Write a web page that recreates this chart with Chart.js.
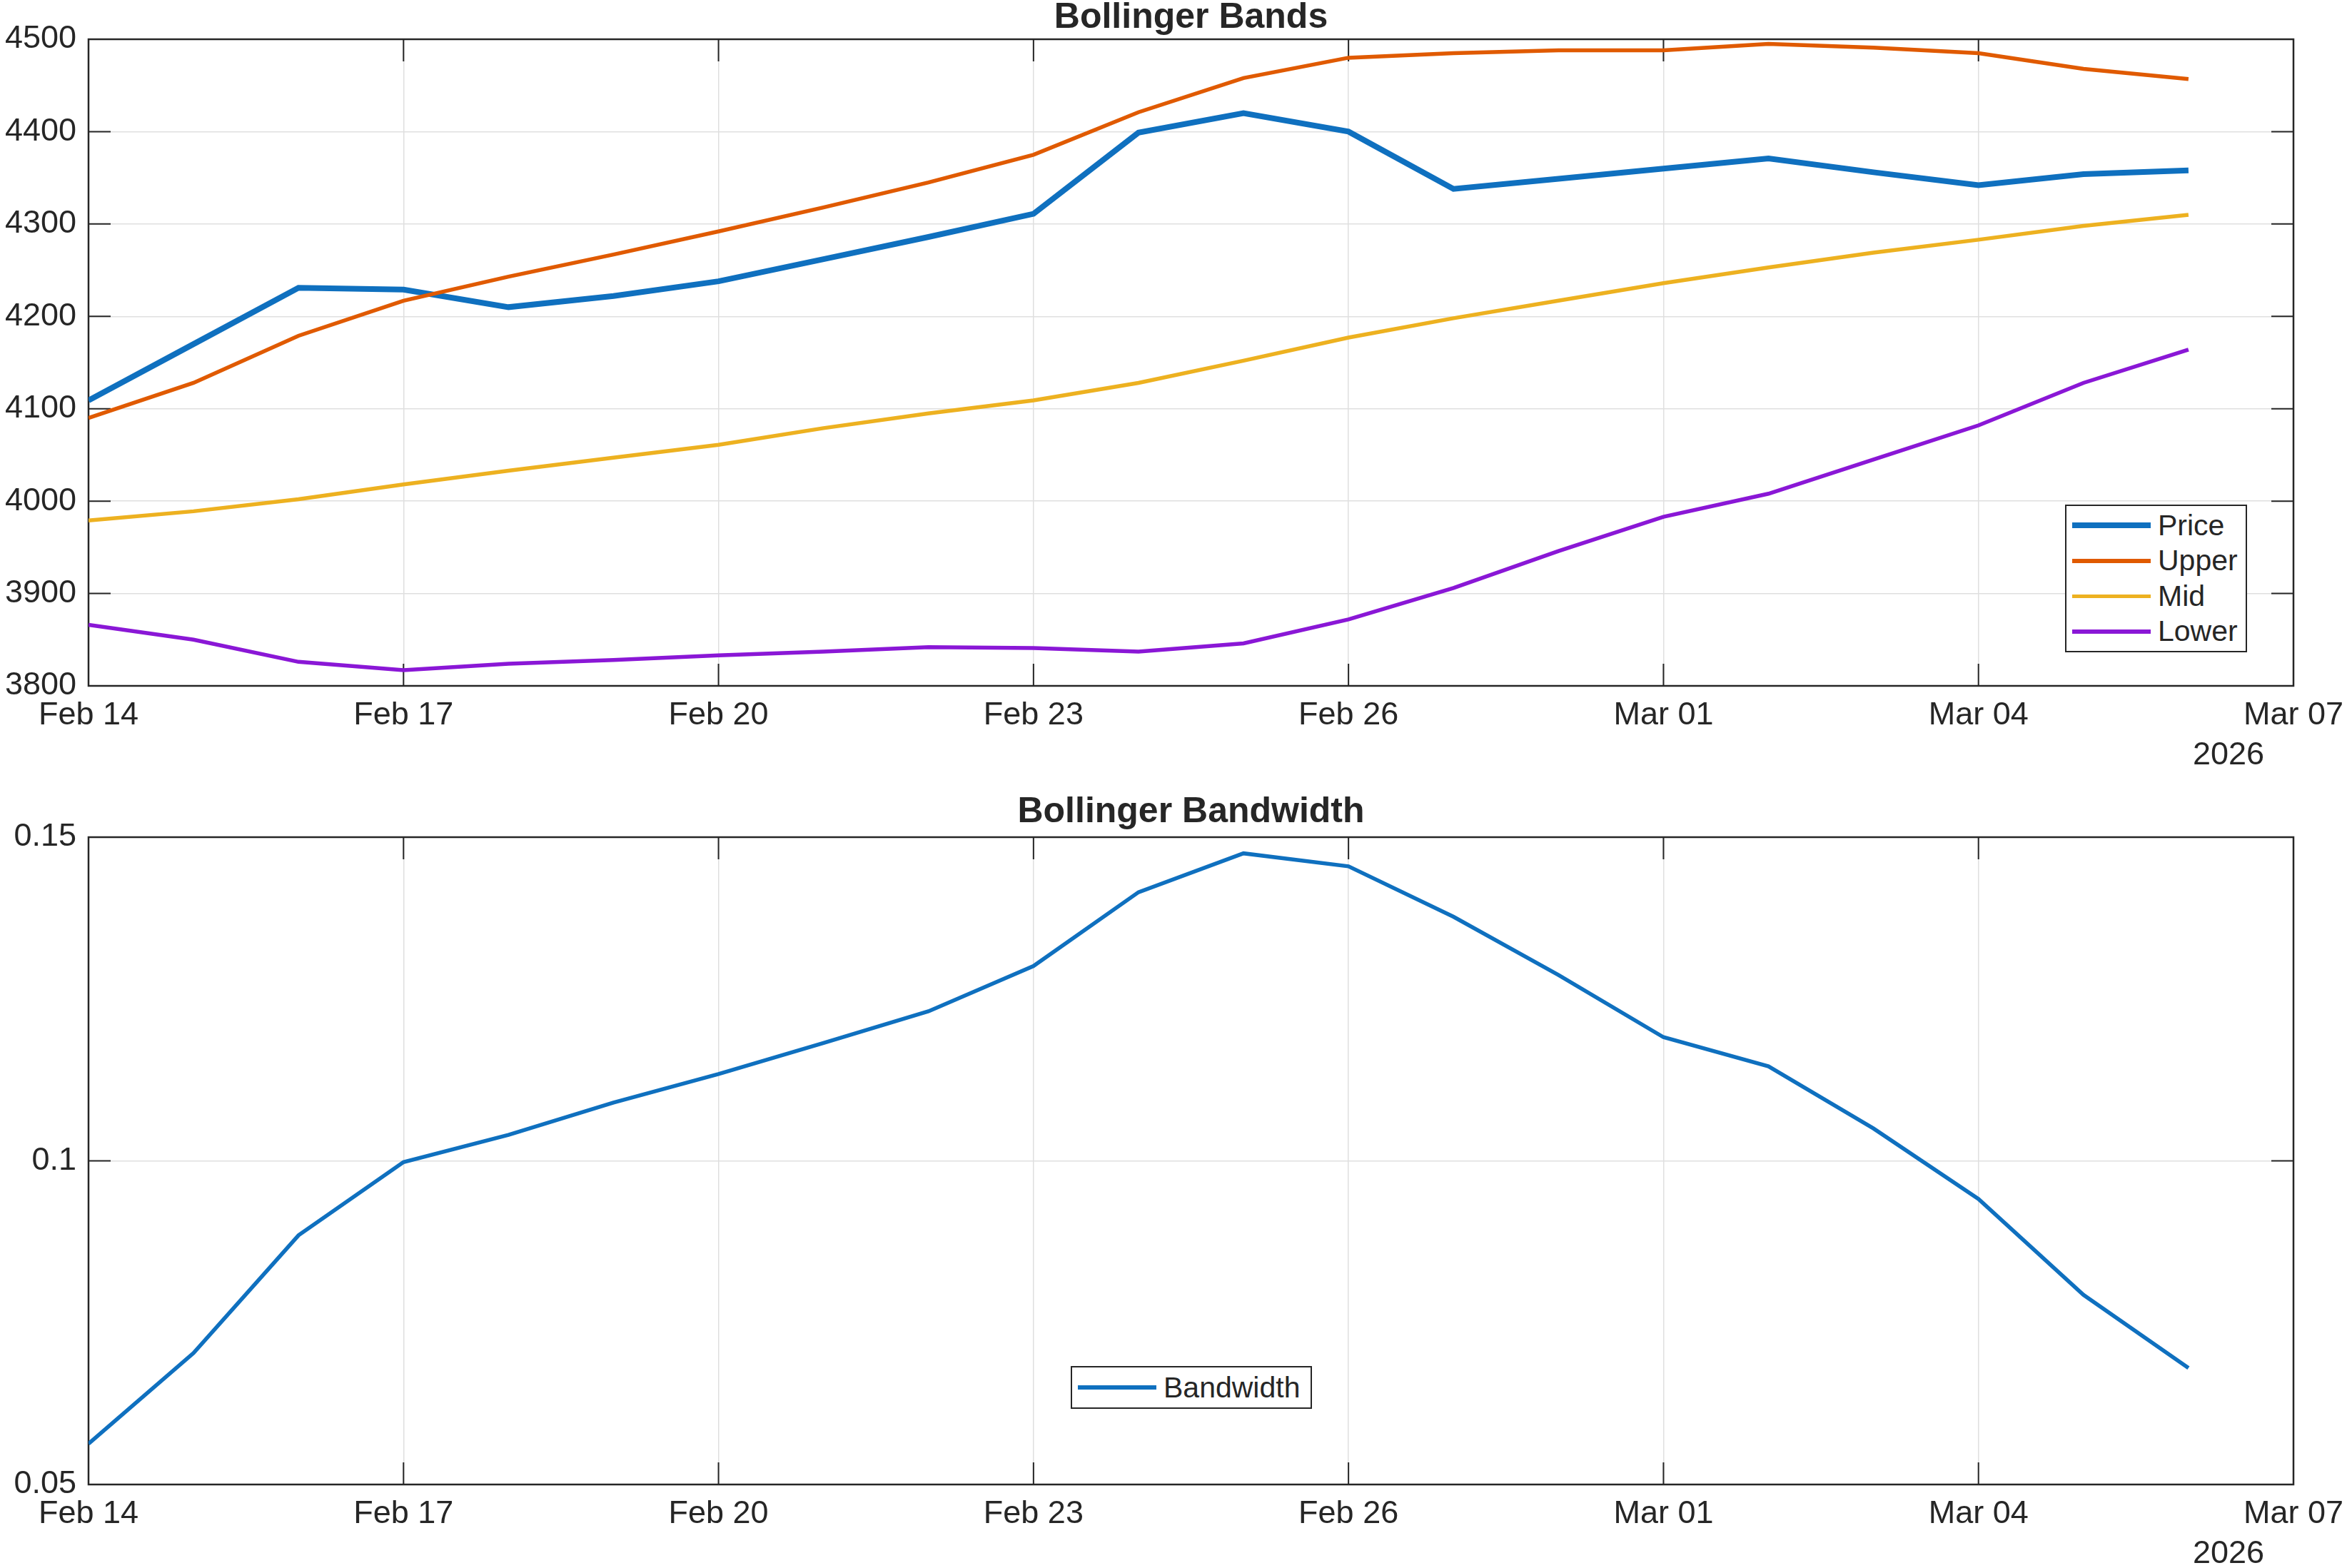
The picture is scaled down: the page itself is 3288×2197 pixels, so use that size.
<!DOCTYPE html>
<html>
<head>
<meta charset="utf-8">
<title>Bollinger Bands</title>
<script src="https://cdn.jsdelivr.net/npm/chart.js@4.4.1/dist/chart.umd.min.js"></script>
<style>
  html, body { margin: 0; padding: 0; background: #fff; overflow: hidden; }
  #wrap { position: relative; width: 3288px; height: 2197px; }
  canvas { position: absolute; left: 0; }
  .legend {
    position: absolute; box-sizing: border-box;
    border: 2px solid #262626; background: #fff;
    font: 41px "Liberation Sans", Arial, Helvetica, sans-serif; color: #262626;
    display: flex; flex-direction: column; justify-content: center;
  }
  .legend .row { display: flex; align-items: center; height: 49.5px; white-space: nowrap; }
  .legend .swatch { display: block; width: 110px; margin: 0 10px 0 8px; }
</style>
</head>
<body>
<div id="wrap">
  <canvas id="bandsChart" width="3288" height="1100" style="top:0"></canvas>
  <canvas id="widthChart" width="3288" height="1097" style="top:1100px"></canvas>
  <div id="bandsLegend" class="legend" style="left:2893px; top:707px; width:255px; height:207px"></div>
  <div id="widthLegend" class="legend" style="left:1500px; top:1914px; width:338px; height:60px"></div>
</div>
<script>
// daily closes, Feb 14 .. Mar 06 2026 (x = day index)
const days = ['Feb 14', 'Feb 15', 'Feb 16', 'Feb 17', 'Feb 18', 'Feb 19', 'Feb 20',
              'Feb 21', 'Feb 22', 'Feb 23', 'Feb 24', 'Feb 25', 'Feb 26', 'Feb 27',
              'Feb 28', 'Mar 01', 'Mar 02', 'Mar 03', 'Mar 04', 'Mar 05', 'Mar 06'];
const xTickDays = [0, 3, 6, 9, 12, 15, 18, 21];
const xTickLabels = ['Feb 14', 'Feb 17', 'Feb 20', 'Feb 23', 'Feb 26', 'Mar 01', 'Mar 04', 'Mar 07'];
const yearText = '2026';

const price = [4109, 4170, 4231, 4229, 4210, 4222, 4238, 4262, 4286, 4311, 4399,
               4420, 4400, 4338, 4349, 4360, 4371, 4356, 4342, 4354, 4358];
const upper = [4090, 4128, 4179, 4217, 4243, 4267, 4292, 4318, 4345, 4375, 4421,
               4458, 4480, 4485, 4488, 4488, 4495, 4491, 4485, 4468, 4457];
const mid   = [3979, 3989, 4002, 4018, 4033, 4047, 4061, 4079, 4095, 4109, 4128,
               4152, 4177, 4198, 4217, 4236, 4253, 4269, 4283, 4298, 4310];
const lower = [3866, 3850, 3826, 3817, 3824, 3828, 3833, 3837, 3842, 3841, 3837,
               3846, 3872, 3906, 3946, 3983, 4008, 4045, 4082, 4128, 4164];
const bandwidth = [0.0563, 0.0703, 0.0885, 0.0998, 0.1040, 0.1090, 0.1134, 0.1182,
                   0.1231, 0.1301, 0.1415, 0.1475, 0.1455, 0.1377, 0.1287, 0.1191,
                   0.1146, 0.1050, 0.0941, 0.0793, 0.0680];

const bandTicks = [3800, 3900, 4000, 4100, 4200, 4300, 4400, 4500];
const bandTickLabels = ['3800', '3900', '4000', '4100', '4200', '4300', '4400', '4500'];
const widthTicks = [0.05, 0.1, 0.15];
const widthTickLabels = ['0.05', '0.1', '0.15'];

const INK = '#262626';
Chart.defaults.font.family = '"Liberation Sans", Arial, Helvetica, sans-serif';
Chart.defaults.color = INK;

function toPoints(values) {
  return values.map((v, i) => ({ x: i, y: v }));
}

// box round the plot area with inward ticks on all four sides
const axesFrame = {
  id: 'axesFrame',
  beforeDatasetsDraw(chart) {
    const { ctx, chartArea: a, scales: { x, y } } = chart;
    const len = 31;
    ctx.save();
    ctx.strokeStyle = INK;
    ctx.lineWidth = 2;
    ctx.beginPath();
    x.ticks.forEach(t => {
      const px = x.getPixelForValue(t.value);
      ctx.moveTo(px, a.bottom); ctx.lineTo(px, a.bottom - len);
      ctx.moveTo(px, a.top); ctx.lineTo(px, a.top + len);
    });
    y.ticks.forEach(t => {
      const py = y.getPixelForValue(t.value);
      ctx.moveTo(a.left, py); ctx.lineTo(a.left + len, py);
      ctx.moveTo(a.right, py); ctx.lineTo(a.right - len, py);
    });
    ctx.stroke();
    ctx.lineWidth = 2.5;
    ctx.strokeRect(a.left, a.top, a.right - a.left, a.bottom - a.top);
    ctx.restore();
  }
};

// the year sits under the last date label
const yearLabel = {
  id: 'yearLabel',
  afterDraw(chart, args, opts) {
    const { ctx, chartArea: a } = chart;
    ctx.save();
    ctx.font = '45px ' + Chart.defaults.font.family;
    ctx.fillStyle = INK;
    ctx.textAlign = 'right';
    ctx.textBaseline = 'middle';
    ctx.fillText(opts.text, a.right - 41, a.bottom + 98);
    ctx.restore();
  }
};

function buildOptions(cfg) {
  const grid = { color: '#dfdfdf', lineWidth: 1.5, drawTicks: false };
  return {
    responsive: false,
    animation: false,
    events: [],
    layout: { padding: { left: 0, right: 75, top: 0, bottom: 0 } },
    plugins: {
      legend: { display: false },
      tooltip: { enabled: false },
      title: {
        display: true,
        fullSize: false,   // centre over the plot area, not the canvas
        text: cfg.title,
        color: INK,
        font: { size: 50, weight: 'bold', lineHeight: 1 },
        padding: { top: cfg.titleTop, bottom: cfg.titleBottom }
      },
      yearLabel: { text: yearText }
    },
    scales: {
      x: {
        type: 'linear',
        min: 0,
        max: 21,
        afterBuildTicks: s => { s.ticks = xTickDays.map(v => ({ value: v })); },
        afterFit: s => {
          s.height = cfg.xAxisHeight;
          // let "Mar 07" hang past the plot edge without shrinking it
          s.paddingRight = 0;
        },
        ticks: {
          callback: (v, i) => xTickLabels[i],
          font: { size: 45, lineHeight: 1.2 },
          padding: 15,
          maxRotation: 0,
          autoSkip: false,
          color: INK
        },
        grid: grid,
        border: { display: false }
      },
      y: {
        type: 'linear',
        min: cfg.yMin,
        max: cfg.yMax,
        afterBuildTicks: s => { s.ticks = cfg.yTicks.map(v => ({ value: v })); },
        afterFit: s => { s.width = 124; },
        ticks: {
          callback: (v, i) => cfg.yLabels[i],
          font: { size: 45 },
          padding: 17,
          autoSkip: false,
          color: INK
        },
        grid: grid,
        border: { display: false }
      }
    }
  };
}

function lineSet(label, values, color, width, order) {
  return {
    label: label,
    data: toPoints(values),
    borderColor: color,
    backgroundColor: color,
    borderWidth: width,
    pointRadius: 0,
    tension: 0,
    fill: false,
    order: order
  };
}

function buildLegend(chart, elId) {
  const box = document.getElementById(elId);
  chart.data.datasets.forEach(ds => {
    const row = document.createElement('div');
    row.className = 'row';
    const swatch = document.createElement('span');
    swatch.className = 'swatch';
    swatch.style.height = ds.borderWidth + 'px';
    swatch.style.background = ds.borderColor;
    const text = document.createElement('span');
    text.textContent = ds.label;
    row.append(swatch, text);
    box.appendChild(row);
  });
}

const bandsChart = new Chart(document.getElementById('bandsChart'), {
  type: 'line',
  data: {
    labels: days,
    datasets: [
      lineSet('Price', price, '#0F70BF', 8, 4),
      lineSet('Upper', upper, '#E05A00', 5.5, 3),
      lineSet('Mid', mid, '#EDB120', 5.5, 2),
      lineSet('Lower', lower, '#8A17D6', 5.5, 1)
    ]
  },
  options: buildOptions({
    title: 'Bollinger Bands', titleTop: 0, titleBottom: 5, xAxisHeight: 139,
    yMin: 3800, yMax: 4500, yTicks: bandTicks, yLabels: bandTickLabels
  }),
  plugins: [axesFrame, yearLabel]
});

const widthChart = new Chart(document.getElementById('widthChart'), {
  type: 'line',
  data: {
    labels: days,
    datasets: [
      lineSet('Bandwidth', bandwidth, '#0F70BF', 5.5, 1)
    ]
  },
  options: buildOptions({
    title: 'Bollinger Bandwidth', titleTop: 13, titleBottom: 10, xAxisHeight: 117,
    yMin: 0.05, yMax: 0.15, yTicks: widthTicks, yLabels: widthTickLabels
  }),
  plugins: [axesFrame, yearLabel]
});

buildLegend(bandsChart, 'bandsLegend');
buildLegend(widthChart, 'widthLegend');
</script>
</body>
</html>
